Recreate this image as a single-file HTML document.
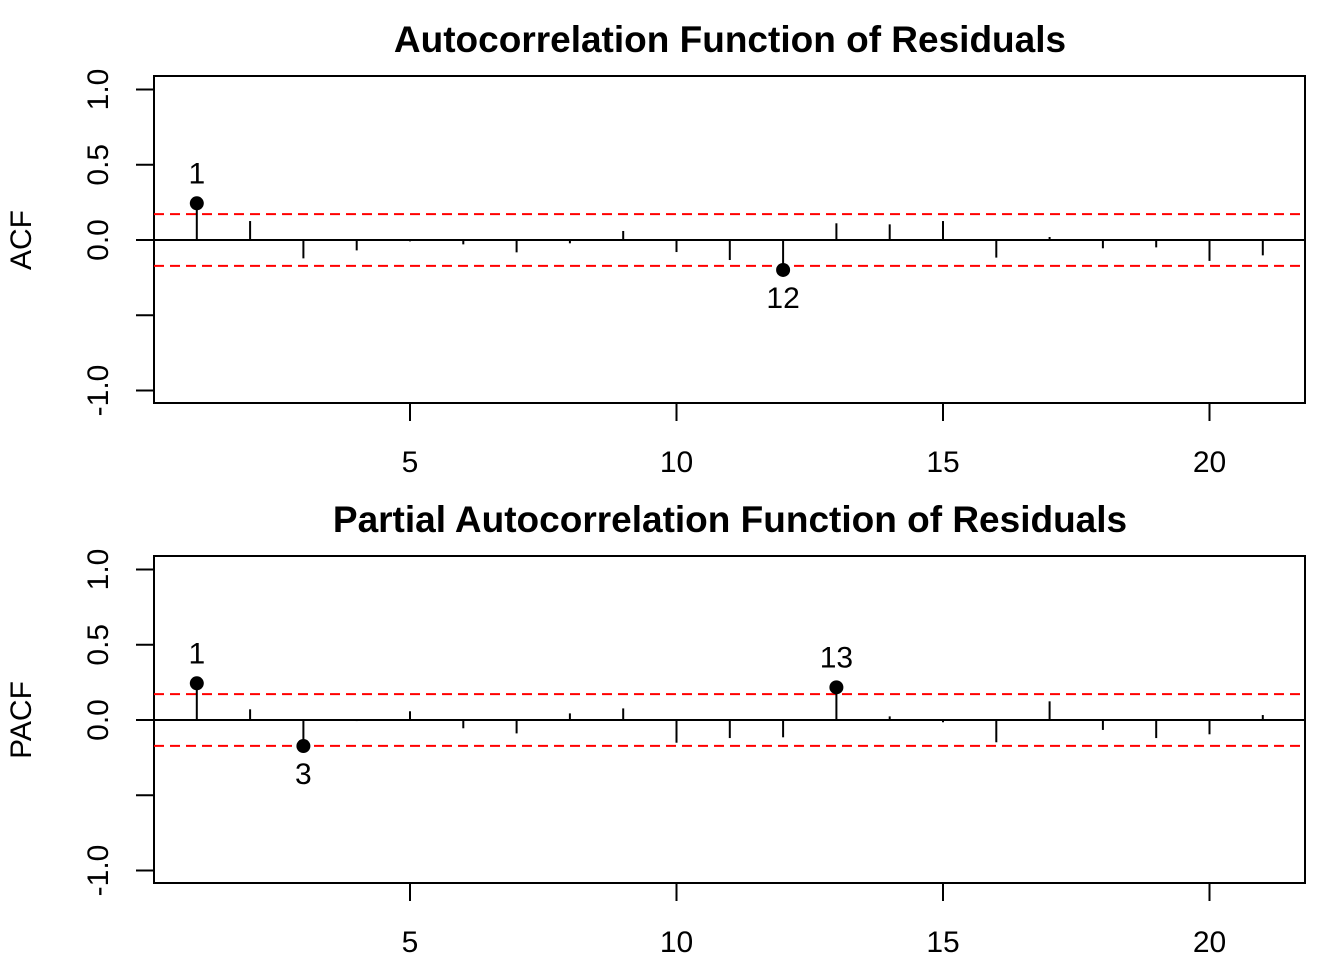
<!DOCTYPE html>
<html><head><meta charset="utf-8"><style>
html,body{margin:0;padding:0;background:#fff;}
svg{display:block;font-family:"Liberation Sans",Arial,sans-serif;}
</style></head><body>
<svg id="c" width="1344" height="960" viewBox="0 0 1344 960"></svg>
<script>
const lags = [1,2,3,4,5,6,7,8,9,10,11,12,13,14,15,16,17,18,19,20,21];
const acfValues = [0.244,0.126,-0.122,-0.069,-0.009,-0.029,-0.082,-0.022,0.060,-0.080,-0.133,-0.199,0.111,0.104,0.126,-0.117,0.020,-0.055,-0.049,-0.139,-0.102];
const pacfValues = [0.244,0.071,-0.173,-0.007,0.058,-0.055,-0.089,0.044,0.077,-0.151,-0.120,-0.115,0.217,0.024,-0.015,-0.148,0.124,-0.066,-0.120,-0.095,0.033];
const ciBound = 0.172;
const xTicks = [5,10,15,20];
const yTicks = [-1.0,-0.5,0.0,0.5,1.0];
const yTickLabels = ["-1.0","","0.0","0.5","1.0"];

const NS="http://www.w3.org/2000/svg";
const svg=document.getElementById('c');
function mk(tag,attrs,parent){const e=document.createElementNS(NS,tag);for(const k in attrs)e.setAttribute(k,attrs[k]);(parent||svg).appendChild(e);return e;}
const xScale=l=>143.5+l*53.3;

function panel(top,title,ylab,values,key){
  const g=mk('g',{});
  
  
  const boxTop=top, boxBot=top+327;
  const zeroY=top+164;
  const yScale=v=>zeroY-v*150.5;
  const t=mk('text',{x:730,y:top-24,'text-anchor':'middle','font-size':37,'font-weight':'bold'},g);
  t.textContent=title;
  
  
  const box=mk('rect',{x:154,y:boxTop,width:1151,height:327,fill:'none',stroke:'#000','stroke-width':2},g);
  
  
  const ya=mk('g',{},g);
  
  
  mk('line',{x1:154,x2:154,y1:yScale(-1),y2:yScale(1),stroke:'#000','stroke-width':2},ya);
  yTicks.forEach((v,i)=>{
    const y=yScale(v);
    mk('line',{x1:136,x2:154,y1:y,y2:y,stroke:'#000','stroke-width':2},ya);
    if(yTickLabels[i]){
      const tx=mk('text',{x:0,y:0,'text-anchor':'middle','font-size':30,transform:`translate(108,${y}) rotate(-90)`},ya);
      tx.textContent=yTickLabels[i];
    }
  });
  const yl=mk('text',{'text-anchor':'middle','font-size':30,transform:`translate(31,${zeroY}) rotate(-90)`},g);
  yl.textContent=ylab;
  
  
  const xa=mk('g',{},g);
  
  
  xTicks.forEach(v=>{
    const x=xScale(v);
    mk('line',{x1:x,x2:x,y1:boxBot,y2:boxBot+18,stroke:'#000','stroke-width':2},xa);
    const tx=mk('text',{x:x,y:boxBot+69,'text-anchor':'middle','font-size':30},xa);
    tx.textContent=String(v);
  });
  mk('line',{x1:154,x2:1305,y1:zeroY,y2:zeroY,stroke:'#000','stroke-width':2},g);
  [ciBound,-ciBound].forEach((b,i)=>{
    const l=mk('line',{x1:154,x2:1305,y1:yScale(b),y2:yScale(b),stroke:'#f00','stroke-width':2,'stroke-dasharray':'10,6'},g);
    
    
  });
  values.forEach((v,i)=>{
    const x=xScale(lags[i]);
    const s=mk('line',{x1:x,x2:x,y1:zeroY,y2:yScale(v),stroke:'#000','stroke-width':2},g);
    
    
    if(Math.abs(v)>ciBound){
      const d=mk('circle',{cx:x,cy:yScale(v),r:7,fill:'#000'},g);
      
      
      const lt=mk('text',{x:x,y:v>0?yScale(v)-20:yScale(v)+38,'text-anchor':'middle','font-size':30},g);
      lt.textContent=String(lags[i]);
      
      
    }
  });
}
panel(76,'Autocorrelation Function of Residuals','ACF',acfValues,'acf');
panel(556,'Partial Autocorrelation Function of Residuals','PACF',pacfValues,'pacf');
</script>
</body></html>
